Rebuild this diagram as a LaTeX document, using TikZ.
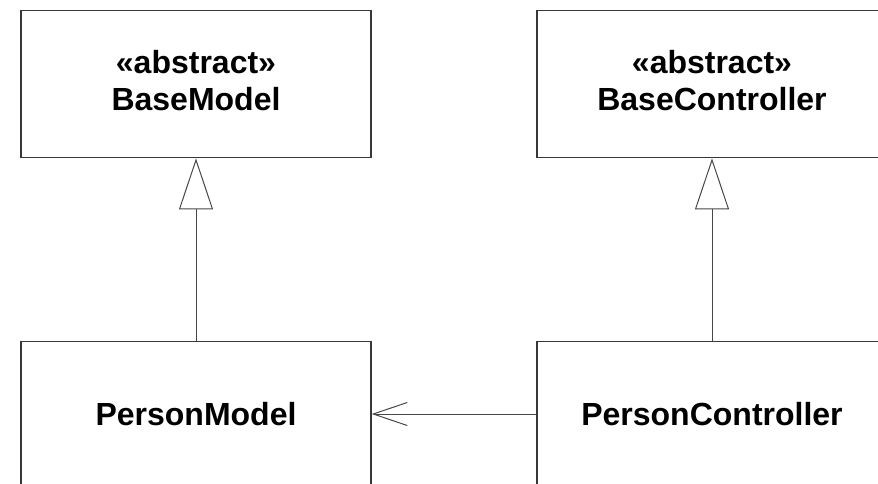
\documentclass[tikz,border=0pt]{standalone}
\usepackage{fontspec}
\setmainfont{Liberation Sans}
\usetikzlibrary{arrows.meta}

\begin{document}
\begin{tikzpicture}[x=1pt,y=-1pt,
  classbox/.style={draw=black!78, line width=1.4pt, inner sep=0pt,
    minimum width=350pt, align=center, anchor=north,
    font=\fontsize{32}{37}\selectfont\bfseries},
  link/.style={draw=black!72, line width=1pt},
  generalization/.style={link, -{Triangle[open, length=51pt, width=34pt, line width=1pt]}},
  association/.style={link, -{Straight Barb[length=34pt, width=23pt, line width=1pt]}}]
  \useasboundingbox (0,0) rectangle (878,484);
  \clip (0,0) rectangle (878,484);
  \fill[white] (0,0) rectangle (878,484);

  % abstract base classes
  \node[classbox] (bm) at (196,10)
    {\rule{0pt}{63pt}«abstract»\\BaseModel\rule[-47pt]{0pt}{0pt}};
  \node[classbox] (bc) at (712,10)
    {\rule{0pt}{63pt}«abstract»\\BaseController\rule[-47pt]{0pt}{0pt}};

  % concrete classes
  \node[classbox] (pm) at (196,341)
    {\rule{0pt}{84pt}PersonModel\rule[-100pt]{0pt}{0pt}};
  \node[classbox] (pc) at (712,341)
    {\rule{0pt}{84pt}PersonController\rule[-100pt]{0pt}{0pt}};

  % inheritance
  \draw[generalization] (pm.north) -- (bm.south);
  \draw[generalization] (pc.north) -- (bc.south);

  % controller uses model
  \coordinate (assoc) at (0,414);
  \draw[association] (pc.west |- assoc) -- (pm.east |- assoc);
\end{tikzpicture}
\end{document}
